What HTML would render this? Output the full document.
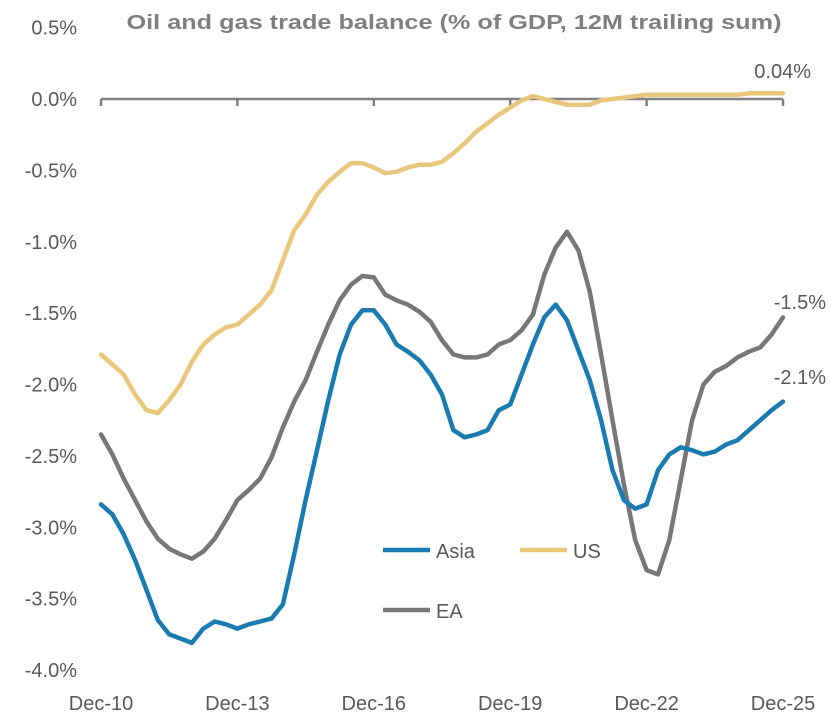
<!DOCTYPE html>
<html><head><meta charset="utf-8"><style>
body{margin:0;background:#fff;}
svg{display:block;font-family:"Liberation Sans",Arial,sans-serif;}
</style></head><body>
<svg id="chart" width="831" height="719" viewBox="0 0 831 719">
<text x="454" y="29" text-anchor="middle" font-size="20" font-weight="bold" fill="#7f7f7f" textLength="655" lengthAdjust="spacingAndGlyphs">Oil and gas trade balance (% of GDP, 12M trailing sum)</text>
<g id="yaxis"></g>
<g id="xaxis"></g>
<g id="series"></g>
<g>
 <line x1="383" y1="550" x2="430" y2="550" stroke="#1a7bb0" stroke-width="4.5"/>
 <text x="436" y="558" font-size="20" fill="#595959">Asia</text>
 <line x1="520" y1="550" x2="567" y2="550" stroke="#e8c77a" stroke-width="4.5"/>
 <text x="573" y="558" font-size="20" fill="#595959">US</text>
 <line x1="383" y1="610" x2="430" y2="610" stroke="#777777" stroke-width="4.5"/>
 <text x="436" y="618" font-size="20" fill="#595959">EA</text>
</g>
<text x="811" y="78" text-anchor="end" font-size="20" fill="#595959">0.04%</text>
<text x="826" y="309" text-anchor="end" font-size="20" fill="#595959">-1.5%</text>
<text x="826" y="384" text-anchor="end" font-size="20" fill="#595959">-2.1%</text>
</svg>
<script>
const yTicks=[0.5,0,-0.5,-1,-1.5,-2,-2.5,-3,-3.5,-4];
const yTickLabels=["0.5%","0.0%","-0.5%","-1.0%","-1.5%","-2.0%","-2.5%","-3.0%","-3.5%","-4.0%"];
const xTickYears=[2010,2013,2016,2019,2022,2025];
const xTickLabels=["Dec-10","Dec-13","Dec-16","Dec-19","Dec-22","Dec-25"];
// quarterly observations starting Dec-10
const asia=[-2.84,-2.91,-3.05,-3.23,-3.44,-3.65,-3.75,-3.78,-3.81,-3.71,-3.66,-3.68,-3.71,-3.68,-3.66,-3.64,-3.54,-3.19,-2.81,-2.46,-2.11,-1.79,-1.58,-1.48,-1.48,-1.58,-1.72,-1.77,-1.83,-1.93,-2.07,-2.32,-2.37,-2.35,-2.32,-2.18,-2.14,-1.93,-1.72,-1.53,-1.44,-1.55,-1.76,-1.97,-2.25,-2.60,-2.81,-2.87,-2.84,-2.60,-2.49,-2.44,-2.46,-2.49,-2.47,-2.42,-2.39,-2.32,-2.25,-2.18,-2.12];
const us=[-1.79,-1.86,-1.93,-2.07,-2.18,-2.20,-2.11,-2.00,-1.84,-1.72,-1.65,-1.60,-1.58,-1.51,-1.44,-1.34,-1.13,-0.92,-0.81,-0.67,-0.58,-0.51,-0.45,-0.45,-0.48,-0.52,-0.51,-0.48,-0.46,-0.46,-0.44,-0.38,-0.31,-0.23,-0.17,-0.11,-0.06,-0.01,0.02,0.00,-0.02,-0.04,-0.04,-0.04,-0.01,0.00,0.01,0.02,0.03,0.03,0.03,0.03,0.03,0.03,0.03,0.03,0.03,0.04,0.04,0.04,0.04];
const ea=[-2.35,-2.49,-2.66,-2.81,-2.96,-3.08,-3.15,-3.19,-3.22,-3.17,-3.08,-2.95,-2.81,-2.74,-2.66,-2.51,-2.30,-2.12,-1.97,-1.77,-1.58,-1.41,-1.30,-1.24,-1.25,-1.37,-1.41,-1.44,-1.49,-1.56,-1.69,-1.79,-1.81,-1.81,-1.79,-1.72,-1.69,-1.62,-1.51,-1.23,-1.04,-0.93,-1.06,-1.35,-1.79,-2.25,-2.70,-3.09,-3.30,-3.33,-3.09,-2.67,-2.25,-2.00,-1.91,-1.87,-1.81,-1.77,-1.74,-1.65,-1.53];
const NS="http://www.w3.org/2000/svg";
const X0=101,X1=783,Y0=99,PPU=142.75;
function xScale(t){return X0+(t-2010)/15*(X1-X0);} // t in years since Dec-10 baseline year
function xIdx(i){return xScale(2010+i/4);}
function yScale(v){return Y0-v*PPU;}
function mk(tag,attrs,parent){const e=document.createElementNS(NS,tag);for(const k in attrs)e.setAttribute(k,attrs[k]);parent.appendChild(e);return e;}
const yg=document.getElementById('yaxis');
yTicks.forEach((v,i)=>{
 const t=mk('text',{x:77,y:yScale(v)+7,'text-anchor':'end','font-size':20,fill:'#595959'},yg);
 
 
 t.textContent=yTickLabels[i];
});
const xg=document.getElementById('xaxis');
const ax=mk('line',{x1:X0,y1:yScale(0),x2:X1,y2:yScale(0),stroke:'#808080','stroke-width':2.5},xg);


xTickYears.forEach((yr,i)=>{
 const x=xScale(yr);
 const tk=mk('line',{x1:x,y1:yScale(0),x2:x,y2:yScale(0)+7,stroke:'#808080','stroke-width':2.5},xg);
 
 
 const t=mk('text',{x:x,y:710,'text-anchor':'middle','font-size':20,fill:'#595959'},xg);
 
 
 t.textContent=xTickLabels[i];
});
const sg=document.getElementById('series');
function line(data,color,name){
 const d=data.map((v,i)=>(i?'L':'M')+xIdx(i).toFixed(1)+','+yScale(v).toFixed(1)).join(' ');
 const p=mk('path',{d:d,fill:'none',stroke:color,'stroke-width':4.5,'stroke-linejoin':'round','stroke-linecap':'round'},sg);
 
 
}
line(us,'#e8c77a','us-line');
line(ea,'#777777','ea-line');
line(asia,'#1a7bb0','asia-line');
</script>
</body></html>
